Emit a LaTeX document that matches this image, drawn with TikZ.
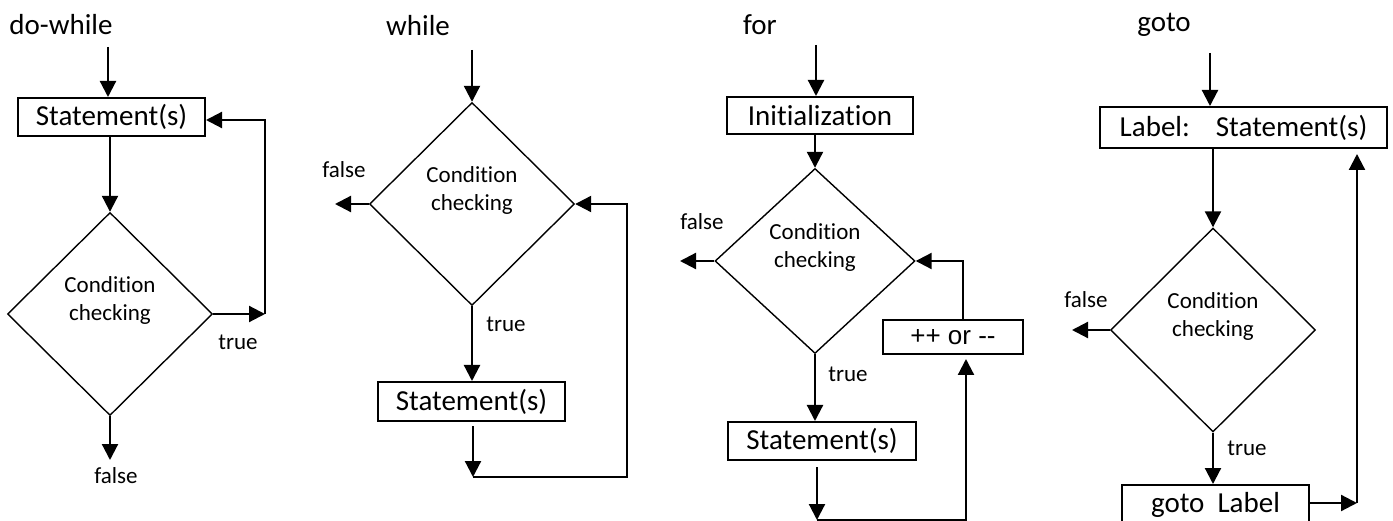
\documentclass[tikz,border=0pt]{standalone}
\usepackage{fontspec}
\setmainfont{Carlito}[RawFeature={-liga;-clig;-calt;-dlig}]
\newfontfamily\opfont{Liberation Sans}
\usetikzlibrary{shapes.geometric,arrows.meta,calc}
% keep "t" and "i" as separate glyphs
\newcommand{\condtext}{Condit\kern0pt ion\\checking}

\begin{document}
\begin{tikzpicture}[x=1pt,y=-1pt,
  bigtext/.style={font=\fontsize{29}{35}\selectfont},
  smalltext/.style={font=\fontsize{23}{28}\selectfont},
  box/.style={draw, line width=2pt, inner sep=0pt, bigtext},
  decision/.style={diamond, draw, line width=1.4pt, inner sep=0pt},
  arr/.style={line width=2.2pt, -{Triangle[length=16pt,width=16pt]}},
  cond/.style={align=center, smalltext, yshift=14pt}
]
\useasboundingbox (0,0) rectangle (1393,521);
\clip (0,0) rectangle (1393,521);

% ---------------- do-while ----------------
\node[bigtext, anchor=base] (t1) at (61,35) {do-while};
\coordinate (e1) at (108,47);
\node[box, minimum width=187pt, minimum height=38pt] (s1) at (111.5,117) {Statement(s)};
\node[decision, minimum width=205pt, minimum height=203pt,
      label={[cond]center:\condtext}] (d1) at (110,314) {};
\coordinate (c1) at (265,314);
\coordinate (f1) at (110,460);
\draw[arr] (e1) -- (e1 |- s1.north);
\draw[arr] (d1.north |- s1.south) -- (d1.north);
\draw[arr] (d1.east) -- (c1);
\draw[arr] (c1) |- ([yshift=-3pt]s1.east);
\draw[arr] (d1.south) -- (f1);
\node[smalltext] (tr1) at (238,342) {true};
\node[smalltext] (fa1) at (116,476) {false};

% ---------------- while ----------------
\node[bigtext, anchor=base] (t2) at (418,36) {while};
\coordinate (e2) at (472,50);
\node[decision, minimum width=205pt, minimum height=203pt,
      label={[cond]center:\condtext}] (d2) at (472,204) {};
\coordinate (f2) at (335,204);
\node[box, minimum width=187pt, minimum height=39pt] (s2) at (471.5,401.5) {Statement(s)};
\coordinate (c2a) at (473,477);
\coordinate (c2b) at (627,477);
\draw[arr] (e2) -- (d2.north);
\draw[arr] (d2.west) -- (f2);
\draw[arr] (d2.south) -- (d2.south |- s2.north);
\draw[arr, shorten <=4pt] (c2a |- s2.south) -- (c2a);
\draw[arr] (c2a) -- (c2b) |- (d2.east);
\node[smalltext] (fa2) at (344,170) {false};
\node[smalltext] (tr2) at (506,324) {true};

% ---------------- for ----------------
\node[bigtext, anchor=base] (t3) at (760,35) {for};
\coordinate (e3) at (816,45);
\node[box, minimum width=186pt, minimum height=37pt] (i3) at (820,115.5) {Initializat\kern0pt ion};
\node[decision, minimum width=200pt, minimum height=185pt,
      label={[cond]center:\condtext}] (d3) at (815,261) {};
\coordinate (f3) at (680,261);
\node[box, minimum width=188pt, minimum height=38pt] (s3) at (822,441) {Statement(s)};
\node[box, minimum width=140pt, minimum height=34pt, font=\opfont\fontsize{26}{30}\selectfont] (p3) at (953,337) {++ or --};
\coordinate (c3a) at (817,520);
\coordinate (c3b) at (966,520);
\draw[arr] (e3) -- (e3 |- i3.north);
\draw[arr] (d3.north |- i3.south) -- (d3.north);
\draw[arr] (d3.west) -- (f3);
\draw[arr] (d3.south) -- (d3.south |- s3.north);
\draw[arr, shorten <=6pt] (c3a |- s3.south) -- (c3a);
\draw[arr, shorten >=4pt] (c3a) -- (c3b) -- (c3b |- p3.south);
\draw[arr] ([xshift=10pt]p3.north) |- (d3.east);
\node[smalltext] (fa3) at (702,222) {false};
\node[smalltext] (tr3) at (848,374) {true};

% ---------------- goto ----------------
\node[bigtext, anchor=base] (t4) at (1164,32) {goto};
\coordinate (e4) at (1210,53);
\node[box, minimum width=287pt, minimum height=41pt] (l4) at (1243.5,127.5) {Label:\hspace{0.9em}Statement(s)};
\node[decision, minimum width=205pt, minimum height=204pt,
      label={[cond]center:\condtext}] (d4) at (1213,330) {};
\coordinate (f4) at (1072,330);
\node[box, minimum width=187pt, minimum height=40pt] (g4) at (1215.5,505) {goto\hspace{0.45em}Label};
\coordinate (c4) at (1357,503);
\draw[arr] (e4) -- (e4 |- l4.north);
\draw[arr] (d4.north |- l4.south) -- (d4.north);
\draw[arr] (d4.west) -- (f4);
\draw[arr] (d4.south) -- (d4.south |- g4.north);
\draw[arr] (g4.east |- c4) -- (c4);
\draw[arr, shorten >=5pt] (c4) -- (c4 |- l4.south);
\node[smalltext] (fa4) at (1086,300) {false};
\node[smalltext] (tr4) at (1247,448) {true};
\end{tikzpicture}
\end{document}
